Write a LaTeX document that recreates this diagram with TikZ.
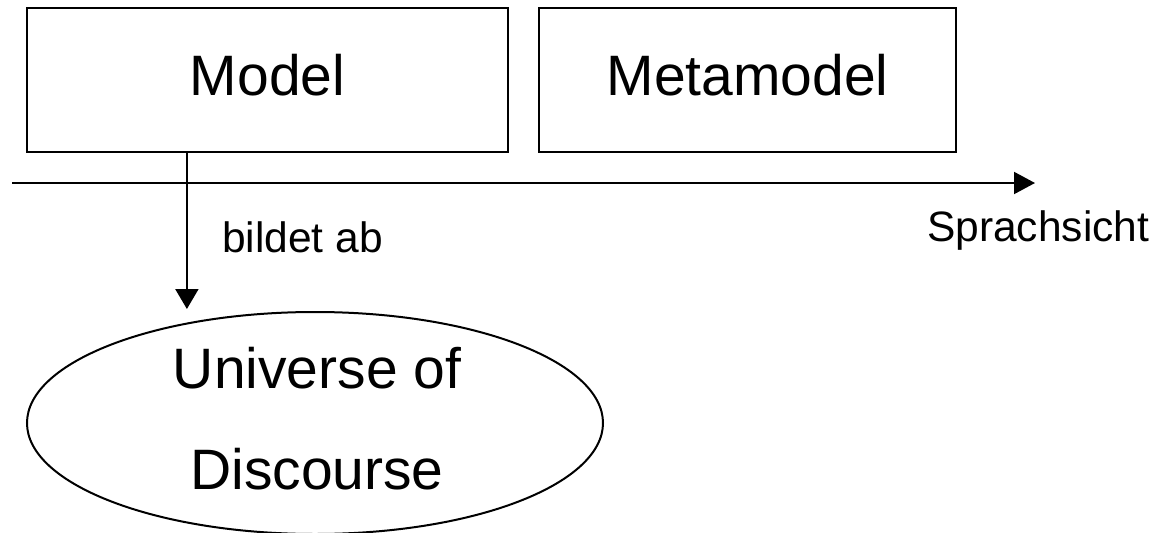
\documentclass[tikz,border=0pt]{standalone}
\usepackage{fontspec}
\setmainfont{Liberation Sans}
\usetikzlibrary{arrows.meta,shapes.geometric}

\tikzset{
  box/.style={draw, line width=2.2pt, rectangle, inner sep=0pt,
    text height=42pt, text depth=12pt,
    font=\fontsize{57}{68}\selectfont},
  bigtext/.style={inner sep=0pt, font=\fontsize{57}{68}\selectfont},
  smalltext/.style={inner sep=0pt, font=\fontsize{42.5}{50}\selectfont},
  axis/.style={line width=2pt, -{Triangle[length=21pt,width=22pt]}},
  maparrow/.style={line width=2pt, -{Triangle[length=20pt,width=23pt]}},
  world/.style={draw, ellipse, line width=2pt, inner sep=0pt}
}

\begin{document}
\begin{tikzpicture}[x=1pt, y=-1pt]
  \useasboundingbox (0,0) rectangle (1160,533);

  % the two boxes on the language axis
  \node[box, minimum width=481pt, minimum height=144pt] (model) at (267.5,80) {Model};
  \node[box, minimum width=417pt, minimum height=144pt] (meta) at (747.5,80) {Metamodel};

  % language-view axis
  \coordinate (axisstart) at (12,183);
  \coordinate (axisend) at (1035,183);
  \draw[axis] (axisstart) -- (axisend);
  \node[smalltext, anchor=base west] (axislabel) at (927,241) {Sprachsicht};

  % universe of discourse
  \node[world, minimum width=576pt, minimum height=222pt] (uod) at (315,423) {};
  \node[bigtext, anchor=base] (uodA) at (317,388) {Universe of};
  \node[bigtext, anchor=base] (uodB) at (317,489) {Discourse};

  % mapping from the model down to the universe of discourse
  \coordinate (mapsrc) at ([xshift=161pt]model.south west);
  \draw[maparrow, shorten >=2pt] (mapsrc) -- (mapsrc |- uod.north);
  \node[smalltext, anchor=base west] (maplabel) at (222,252) {bildet ab};
\end{tikzpicture}
\end{document}
